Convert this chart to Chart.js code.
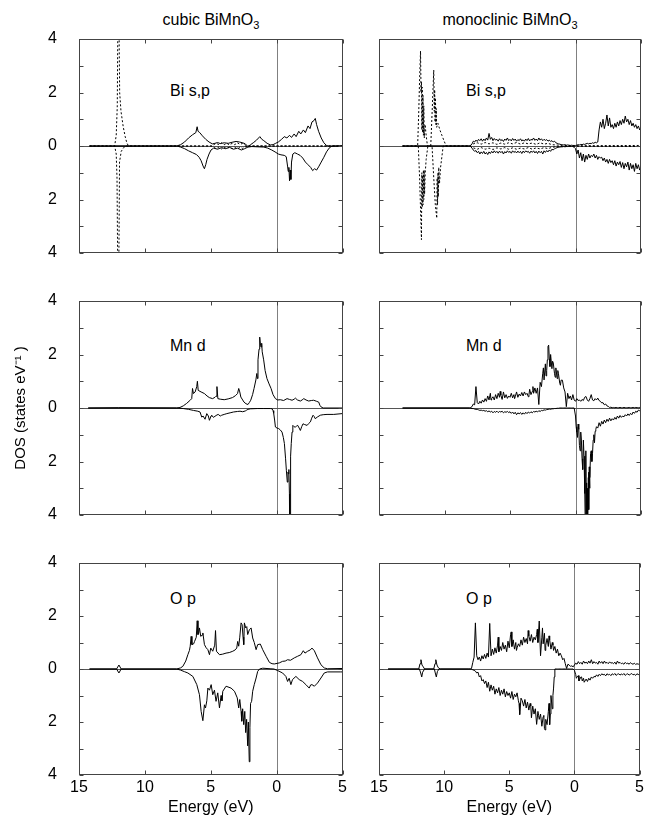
<!DOCTYPE html>
<html><head><meta charset="utf-8">
<script src="https://cdn.jsdelivr.net/npm/chart.js@4.4.1/dist/chart.umd.min.js"></script>
<style>
body{margin:0;background:#fff;width:647px;height:823px;position:relative;overflow:hidden;font-family:"Liberation Sans",Arial,Helvetica,sans-serif;}
canvas{position:absolute;}
.t{position:absolute;font-size:16px;line-height:16px;color:#000;white-space:nowrap;}
.ttl{text-align:center;width:200px;}
sub{font-size:11px;vertical-align:-4px;line-height:0;}
</style></head><body>
<div class="t ttl" style="left:111px;top:12px;">cubic BiMnO<sub>3</sub></div>
<div class="t ttl" style="left:410px;top:12px;">monoclinic BiMnO<sub>3</sub></div>
<div class="t" style="left:170px;top:83px;">Bi s,p</div>
<div class="t" style="left:466px;top:83px;">Bi s,p</div>
<div class="t" style="left:170px;top:338px;">Mn d</div>
<div class="t" style="left:466px;top:338px;">Mn d</div>
<div class="t" style="left:170px;top:591px;">O p</div>
<div class="t" style="left:466px;top:591px;">O p</div>
<canvas id="c1" width="350" height="234" style="left:0;top:29px"></canvas>
<canvas id="c2" width="297" height="234" style="left:350px;top:29px"></canvas>
<canvas id="c3" width="350" height="235" style="left:0;top:290px"></canvas>
<canvas id="c4" width="297" height="235" style="left:350px;top:290px"></canvas>
<canvas id="c5" width="350" height="270" style="left:0;top:553px"></canvas>
<canvas id="c6" width="297" height="270" style="left:350px;top:553px"></canvas>
<script>
// ---------- axis ticks ----------
const xTickMarks=[-15,-10,-5,0,5];
const yTickMarks=[-4,-3,-2,-1,0,1,2,3,4];
// monoclinic series are sampled on an energy grid starting at -8.0 eV, step 0.1 eV
const monoGridStart=-8.0, monoGridStep=0.1;

// ---------- cubic Bi s,p ----------
const cubicBiPUp=[[-14.2,0],[-7.6,0],[-7.3,0.05],[-7.0,0.15],[-6.7,0.3],[-6.4,0.42],[-6.15,0.5],[-6.05,0.72],[-5.98,0.55],[-5.85,0.5],[-5.65,0.38],[-5.4,0.25],[-5.15,0.15],[-4.9,0.08],[-4.7,0.1],[-4.5,0.13],[-4.3,0.09],[-4.0,0.12],[-3.7,0.1],[-3.4,0.14],[-3.1,0.17],[-2.85,0.15],[-2.6,0.12],[-2.4,0.08],[-2.2,-0.02],[-2.0,0.05],[-1.8,0.12],[-1.55,0.22],[-1.3,0.35],[-1.15,0.25],[-1.0,0.2],[-0.75,0.1],[-0.5,0.04],[-0.3,0.05],[-0.1,0.1],[0.1,0.15],[0.35,0.25],[0.55,0.35],[0.75,0.3],[0.95,0.4],[1.1,0.32],[1.3,0.45],[1.45,0.35],[1.65,0.55],[1.8,0.45],[2.0,0.6],[2.15,0.5],[2.35,0.75],[2.5,0.65],[2.65,0.9],[2.8,0.95],[2.9,1.03],[3.0,0.8],[3.15,0.55],[3.35,0.3],[3.55,0.12],[3.75,0.02],[3.9,0],[5,0]];
const cubicBiPDn=[[-14.2,0],[-7.6,0],[-7.3,-0.04],[-7.0,-0.1],[-6.7,-0.18],[-6.4,-0.25],[-6.1,-0.32],[-5.9,-0.42],[-5.75,-0.55],[-5.6,-0.75],[-5.5,-0.85],[-5.4,-0.7],[-5.3,-0.5],[-5.15,-0.3],[-5.0,-0.15],[-4.8,-0.08],[-4.5,-0.12],[-4.2,-0.06],[-3.9,-0.1],[-3.6,-0.05],[-3.3,-0.12],[-3.0,-0.08],[-2.7,-0.15],[-2.45,-0.1],[-2.2,-0.04],[-1.9,-0.02],[-1.5,-0.03],[-1.0,-0.04],[-0.7,-0.08],[-0.4,-0.15],[-0.15,-0.22],[0.1,-0.3],[0.3,-0.33],[0.55,-0.35],[0.7,-0.4],[0.8,-0.75],[0.85,-0.95],[0.9,-0.8],[0.95,-1.3],[1.0,-0.9],[1.05,-1.25],[1.1,-0.6],[1.2,-0.3],[1.35,-0.25],[1.55,-0.3],[1.75,-0.35],[1.95,-0.45],[2.15,-0.6],[2.35,-0.7],[2.55,-0.8],[2.7,-0.92],[2.85,-0.85],[3.0,-0.9],[3.15,-0.78],[3.35,-0.6],[3.55,-0.42],[3.75,-0.22],[3.95,-0.08],[4.1,-0.02],[4.3,0],[5,0]];
const cubicBiSUp=[[-14.2,0],[-12.3,0],[-12.18,0.4],[-12.1,1.5],[-12.05,5],[-11.98,5],[-11.92,2.0],[-11.82,1.3],[-11.65,0.72],[-11.5,0.35],[-11.38,0.12],[-11.25,0],[-5,0],[-4.8,0.05],[-4.6,0.1],[-4.4,0.05],[-4.2,0.12],[-4.0,0.05],[-3.8,0.1],[-3.6,0.04],[-3.4,0.1],[-3.2,0.05],[-3.0,0.12],[-2.8,0.06],[-2.6,0.1],[-2.4,0.03],[-2.2,0],[5,0]];
const cubicBiSDn=[[-14.2,0],[-12.3,0],[-12.18,-0.3],[-12.12,-1.2],[-12.06,-5],[-11.99,-5],[-11.93,-0.6],[-11.8,-0.2],[-11.6,-0.05],[-11.4,0],[-5,0],[-4.8,-0.05],[-4.6,-0.1],[-4.4,-0.04],[-4.2,-0.11],[-4.0,-0.05],[-3.8,-0.1],[-3.6,-0.04],[-3.4,-0.1],[-3.2,-0.05],[-3.0,-0.11],[-2.8,-0.05],[-2.6,-0.09],[-2.4,-0.03],[-2.2,0],[5,0]];

// ---------- monoclinic Bi s,p ----------
const monoBiPUp=[
0.02,0.08,0.18,0.15,0.22,0.17,0.25,0.2,0.27,0.18,
0.26,0.2,0.3,0.22,0.47,0.25,0.32,0.2,0.28,0.22,
0.25,0.18,0.27,0.2,0.24,0.17,0.26,0.21,0.3,0.2,
0.25,0.19,0.28,0.21,0.26,0.18,0.24,0.2,0.27,0.19,
0.23,0.18,0.26,0.2,0.28,0.19,0.25,0.22,0.3,0.21,
0.26,0.2,0.3,0.22,0.27,0.2,0.25,0.21,0.24,0.18,
0.22,0.17,0.2,0.15,0.18,0.12,0.1,0.08,0.07,0.05,
0.05,0.04,0.05,0.03,0.04,0.03,0.02,0.03,0.02,0.02,
0.02,0.03,0.05,0.04,0.06,0.05,0.07,0.06,0.08,0.1,
0.08,0.1,0.09,0.12,0.1,0.14,0.12,0.15,0.6,0.9,
0.7,1.0,0.65,0.85,1.16,0.75,1.05,0.7,0.8,0.65,
0.85,0.7,0.9,0.75,0.95,0.8,1.0,0.85,1.12,0.9,
1.0,0.8,0.95,0.75,0.85,0.7,0.8,0.65,0.75,0.6,
0.7];
const monoBiPDn=[
-0.02,-0.08,-0.15,-0.2,-0.17,-0.25,-0.2,-0.3,-0.22,-0.28,
-0.2,-0.3,-0.24,-0.32,-0.22,-0.28,-0.2,-0.26,-0.18,-0.25,
-0.2,-0.27,-0.19,-0.25,-0.2,-0.3,-0.21,-0.26,-0.18,-0.24,
-0.2,-0.27,-0.18,-0.24,-0.2,-0.26,-0.19,-0.25,-0.2,-0.28,
-0.19,-0.25,-0.18,-0.23,-0.2,-0.27,-0.19,-0.24,-0.18,-0.26,
-0.2,-0.28,-0.19,-0.25,-0.2,-0.3,-0.18,-0.24,-0.17,-0.22,
-0.15,-0.2,-0.12,-0.15,-0.1,-0.08,-0.06,-0.05,-0.04,-0.03,
-0.03,-0.02,-0.03,-0.02,-0.02,-0.01,-0.02,-0.01,-0.02,-0.05,
-0.1,-0.3,-0.15,-0.45,-0.25,-0.55,-0.3,-0.6,-0.35,-0.5,
-0.3,-0.45,-0.35,-0.4,-0.3,-0.45,-0.35,-0.5,-0.4,-0.45,
-0.42,-0.55,-0.45,-0.6,-0.5,-0.65,-0.5,-0.62,-0.55,-0.7,
-0.55,-0.75,-0.6,-0.7,-0.58,-0.8,-0.62,-0.85,-0.65,-0.78,
-0.6,-0.9,-0.65,-0.85,-0.7,-0.95,-0.65,-0.85,-0.7,-0.9,
-0.8];
const monoBiPLead=[[-13.2,0],[-8.1,0]];
const monoBiSUp=[[-13.2,0],[-12.05,0],[-11.97,1.2],[-11.9,2.5],[-11.83,3.55],[-11.79,2.0],[-11.76,2.4],[-11.73,0.6],[-11.7,2.2],[-11.67,0.5],[-11.64,1.9],[-11.61,0.4],[-11.58,1.5],[-11.54,0.3],[-11.48,0.8],[-11.4,0.4],[-11.3,0],[-11.05,0],[-10.95,1.2],[-10.87,2.2],[-10.82,2.84],[-10.78,1.3],[-10.75,2.1],[-10.72,0.9],[-10.69,1.8],[-10.66,0.8],[-10.63,1.4],[-10.6,0.7],[-10.5,0.85],[-10.35,0.6],[-10.2,0.4],[-10.0,0.15],[-9.87,0],[-8.1,0],[-7.8,0.08],[-7.5,0.12],[-7.2,0.07],[-6.9,0.13],[-6.6,0.08],[-6.3,0.12],[-6.0,0.06],[-5.7,0.11],[-5.4,0.07],[-5.1,0.12],[-4.8,0.08],[-4.5,0.13],[-4.2,0.07],[-3.9,0.12],[-3.6,0.08],[-3.3,0.11],[-3.0,0.06],[-2.7,0.12],[-2.4,0.07],[-2.1,0.1],[-1.8,0.05],[-1.5,0.04],[-1.0,0.02],[0,0.01],[5,0.02]];
const monoBiSDn=[[-13.2,0],[-12.0,0],[-11.9,-1.2],[-11.82,-2.5],[-11.76,-3.5],[-11.73,-1.0],[-11.7,-2.3],[-11.67,-1.1],[-11.64,-2.2],[-11.61,-0.9],[-11.58,-2.0],[-11.55,-0.9],[-11.52,-1.8],[-11.47,-1.0],[-11.4,-0.5],[-11.27,0],[-10.95,0],[-10.82,-1.2],[-10.7,-2.2],[-10.59,-2.7],[-10.56,-1.2],[-10.53,-2.2],[-10.5,-1.0],[-10.47,-1.9],[-10.44,-0.8],[-10.38,-1.4],[-10.3,-0.8],[-10.2,-0.4],[-10.1,0],[-8.1,0],[-7.8,-0.07],[-7.5,-0.12],[-7.2,-0.06],[-6.9,-0.12],[-6.6,-0.08],[-6.3,-0.13],[-6.0,-0.07],[-5.7,-0.11],[-5.4,-0.06],[-5.1,-0.12],[-4.8,-0.07],[-4.5,-0.12],[-4.2,-0.08],[-3.9,-0.11],[-3.6,-0.06],[-3.3,-0.12],[-3.0,-0.07],[-2.7,-0.11],[-2.4,-0.06],[-2.1,-0.1],[-1.8,-0.05],[-1.5,-0.03],[-1.0,-0.02],[0,-0.01],[5,-0.02]];

// ---------- cubic Mn d ----------
const cubicMnUp=[[-14.3,0],[-12,0.01],[-7.6,0],[-7.35,0.02],[-7.1,0.08],[-6.85,0.17],[-6.6,0.28],[-6.46,0.35],[-6.4,0.73],[-6.33,0.54],[-6.2,0.6],[-6.08,0.8],[-6.03,1.0],[-5.97,0.66],[-5.75,0.6],[-5.5,0.54],[-5.3,0.45],[-5.13,0.39],[-4.88,0.35],[-4.7,0.4],[-4.62,0.44],[-4.55,0.8],[-4.48,0.35],[-4.3,0.33],[-4.0,0.31],[-3.7,0.34],[-3.37,0.39],[-3.15,0.46],[-2.99,0.54],[-2.9,0.73],[-2.82,0.6],[-2.74,0.41],[-2.6,0.3],[-2.5,0.22],[-2.35,0.16],[-2.2,0.13],[-2.1,0.2],[-1.99,0.29],[-1.85,0.5],[-1.74,0.73],[-1.6,1.05],[-1.53,1.29],[-1.48,1.1],[-1.44,1.8],[-1.36,2.2],[-1.31,2.65],[-1.25,2.35],[-1.21,2.28],[-1.16,2.42],[-1.12,2.1],[-1.01,1.8],[-0.9,1.4],[-0.76,1.1],[-0.6,0.9],[-0.45,0.73],[-0.3,0.5],[-0.12,0.35],[0.05,0.3],[0.25,0.31],[0.5,0.28],[0.76,0.35],[0.95,0.32],[1.14,0.29],[1.3,0.33],[1.39,0.37],[1.55,0.3],[1.77,0.26],[1.9,0.3],[2.03,0.35],[2.2,0.3],[2.4,0.26],[2.6,0.28],[2.78,0.29],[3.0,0.25],[3.16,0.22],[3.25,0.1],[3.34,0.04],[3.5,0],[5,0]];
const cubicMnDn=[[-14.3,0],[-7.6,0],[-7.1,-0.02],[-6.7,-0.05],[-6.33,-0.09],[-6.0,-0.12],[-5.83,-0.15],[-5.7,-0.34],[-5.6,-0.3],[-5.45,-0.42],[-5.32,-0.21],[-5.2,-0.3],[-5.12,-0.46],[-5.0,-0.3],[-4.95,-0.27],[-4.82,-0.35],[-4.7,-0.31],[-4.55,-0.26],[-4.45,-0.24],[-4.3,-0.3],[-4.19,-0.27],[-4.0,-0.24],[-3.8,-0.21],[-3.55,-0.18],[-3.3,-0.15],[-3.0,-0.13],[-2.8,-0.12],[-2.6,-0.14],[-2.4,-0.11],[-2.3,-0.08],[-2.2,-0.05],[-2.0,-0.03],[-1.5,-0.02],[-1.0,-0.02],[-0.5,-0.02],[-0.37,-0.03],[-0.3,-0.1],[-0.25,-0.2],[-0.18,-0.45],[-0.12,-0.71],[0.0,-0.75],[0.13,-0.77],[0.25,-0.82],[0.38,-0.9],[0.48,-1.1],[0.56,-1.33],[0.65,-1.9],[0.71,-2.33],[0.78,-2.77],[0.83,-2.4],[0.87,-2.46],[0.9,-2.3],[0.94,-3.2],[0.96,-4.5],[0.99,-4.5],[1.01,-2.6],[1.05,-1.8],[1.08,-1.33],[1.14,-0.9],[1.2,-0.65],[1.3,-0.7],[1.39,-0.72],[1.5,-0.66],[1.57,-0.65],[1.68,-0.75],[1.77,-0.84],[1.87,-0.7],[1.97,-0.59],[2.1,-0.62],[2.28,-0.65],[2.4,-0.58],[2.53,-0.52],[2.63,-0.38],[2.73,-0.27],[2.82,-0.32],[2.9,-0.4],[3.05,-0.34],[3.28,-0.27],[3.5,-0.25],[3.79,-0.24],[4.3,-0.24],[4.93,-0.21],[5,-0.21]];

// ---------- monoclinic Mn d ----------
const monoMnUp=[
0.02,0.05,0.15,0.12,0.8,0.2,0.15,0.25,0.18,0.3,
0.22,0.35,0.25,0.45,0.3,0.55,0.35,0.42,0.3,0.5,
0.35,0.55,0.4,0.48,0.32,0.6,0.38,0.5,0.36,0.45,
0.4,0.55,0.38,0.5,0.42,0.6,0.4,0.52,0.45,0.58,
0.45,0.6,0.5,0.55,0.42,0.7,0.5,0.62,0.55,0.75,
0.55,0.75,0.13,0.96,0.8,1.3,1.05,1.65,1.4,2.3,
1.85,2.0,1.47,1.7,1.28,1.5,1.1,1.28,0.92,1.04,
1.04,0.75,0.6,0.05,0.55,0.35,0.45,0.3,0.5,0.3,
0.25,0.35,0.28,0.3,0.25,0.32,0.28,0.4,0.43,0.3,
0.25,0.35,0.5,0.3,0.27,0.35,0.3,0.37,0.28,0.25,
0.19,0.2,0.12,0.15,0.08,0.06,0.02,0.03,0.01,0.02,
0.01,0.02,0.01,0.01,0.02,0.01,0.01,0.02,0.01,0.01,
0.01,0.02,0.01,0.01,0.02,0.01,0.02,0.01,0.01,0.02,
0.01];
const monoMnUpExtra=[[-13.2,0],[-8.1,0],[-6.45,0.3],[-5.75,0.62],[-4.65,0.35],[-3.55,0.5],[-3.25,0.8],[-2.45,1.5],[-2.25,1.2],[-2.15,1.8],[-2.05,2.35],[-1.95,1.55],[-1.75,1.75],[-1.55,1.15],[-1.35,1.4],[-1.15,0.85]];
const monoMnDn=[
-0.01,-0.02,-0.02,-0.04,-0.05,-0.05,-0.07,-0.09,-0.08,-0.1,
-0.09,-0.12,-0.1,-0.14,-0.11,-0.15,-0.12,-0.18,-0.13,-0.16,
-0.12,-0.17,-0.13,-0.15,-0.12,-0.18,-0.14,-0.16,-0.13,-0.17,
-0.14,-0.2,-0.15,-0.22,-0.16,-0.25,-0.18,-0.22,-0.17,-0.24,
-0.18,-0.23,-0.16,-0.21,-0.15,-0.19,-0.14,-0.18,-0.13,-0.15,
-0.12,-0.15,-0.1,-0.13,-0.09,-0.1,-0.07,-0.08,-0.06,-0.05,
-0.04,-0.05,-0.03,-0.03,-0.02,-0.02,-0.01,-0.01,0,0,
0,0,0,0,0,0,0,0,0,0,
-0.3,-0.9,-0.6,-1.4,-0.9,-1.9,-1.2,-2.6,-1.6,-4.5,
-2.4,-2.6,-1.6,-1.7,-1.0,-0.87,-0.7,-0.75,-0.55,-0.68,
-0.5,-0.6,-0.45,-0.55,-0.42,-0.5,-0.38,-0.48,-0.4,-0.45,
-0.35,-0.42,-0.3,-0.38,-0.28,-0.35,-0.3,-0.33,-0.25,-0.3,
-0.22,-0.28,-0.2,-0.25,-0.15,-0.2,-0.12,-0.16,-0.08,-0.1,
-0.06];
const monoMnDnExtra=[[-13.2,0],[-8.1,0],[0.05,-0.7],[0.15,-1.1],[0.25,-0.8],[0.35,-1.6],[0.45,-1.2],[0.55,-2.3],[0.65,-1.8],[0.72,-3.2],[0.75,-4.5],[0.78,-2.4],[0.82,-4.5],[0.85,-2.8],[0.88,-4.5],[0.92,-3.0],[0.95,-4.5],[0.98,-2.6],[1.02,-3.8],[1.05,-2.2],[1.08,-3.0],[1.15,-1.7],[1.25,-2.0],[1.35,-1.2],[1.45,-1.3],[1.55,-0.8]];

// ---------- cubic O p ----------
const cubicOUp=[[-14.2,0],[-12.15,0],[-11.97,0.15],[-11.8,0],[-7.6,0],[-7.3,0.04],[-7.12,0.1],[-6.9,0.3],[-6.74,0.54],[-6.62,0.7],[-6.56,0.86],[-6.49,1.23],[-6.43,0.92],[-6.3,0.95],[-6.23,1.04],[-6.1,1.2],[-6.03,1.82],[-5.97,1.3],[-5.92,1.35],[-5.86,1.55],[-5.76,1.23],[-5.66,1.28],[-5.6,1.36],[-5.48,0.92],[-5.35,0.8],[-5.22,0.73],[-5.1,0.54],[-5.0,0.79],[-4.85,0.67],[-4.7,0.9],[-4.64,1.45],[-4.57,0.67],[-4.34,0.54],[-4.1,0.56],[-3.84,0.6],[-3.6,0.62],[-3.33,0.67],[-3.15,0.72],[-3.03,0.79],[-2.96,1.04],[-2.88,0.86],[-2.8,1.2],[-2.7,1.74],[-2.62,1.67],[-2.55,1.2],[-2.5,0.92],[-2.45,1.74],[-2.35,1.55],[-2.27,1.6],[-2.2,1.3],[-2.07,1.48],[-1.94,1.55],[-1.82,1.17],[-1.7,1.0],[-1.56,0.73],[-1.44,0.92],[-1.24,0.94],[-1.06,0.73],[-0.8,0.48],[-0.55,0.25],[-0.35,0.2],[-0.18,0.19],[0.2,0.23],[0.45,0.29],[0.65,0.3],[0.83,0.35],[1.05,0.33],[1.34,0.42],[1.59,0.48],[1.84,0.54],[2.02,0.69],[2.15,0.6],[2.35,0.67],[2.55,0.72],[2.68,0.79],[2.86,0.69],[3.1,0.42],[3.36,0.16],[3.61,0.04],[3.86,0.01],[5,0.02]];
const cubicODn=[[-14.2,0],[-12.15,0],[-11.97,-0.15],[-11.8,0],[-7.6,0],[-7.3,-0.04],[-7.0,-0.1],[-6.74,-0.15],[-6.36,-0.28],[-6.06,-0.59],[-5.86,-0.97],[-5.73,-1.6],[-5.6,-1.95],[-5.48,-1.35],[-5.4,-1.47],[-5.3,-1.2],[-5.22,-0.72],[-5.1,-0.8],[-4.97,-0.59],[-4.85,-0.97],[-4.72,-0.8],[-4.6,-1.22],[-4.47,-0.9],[-4.34,-1.47],[-4.22,-1.0],[-4.15,-1.2],[-4.09,-0.84],[-3.84,-0.65],[-3.46,-0.72],[-3.2,-0.84],[-2.99,-1.09],[-2.88,-1.47],[-2.8,-1.15],[-2.7,-1.6],[-2.65,-1.97],[-2.58,-1.5],[-2.5,-2.1],[-2.42,-1.6],[-2.35,-2.4],[-2.28,-1.9],[-2.2,-2.9],[-2.15,-2.0],[-2.08,-3.5],[-2.03,-2.2],[-1.98,-1.3],[-1.9,-1.22],[-1.82,-0.84],[-1.7,-0.59],[-1.56,-0.34],[-1.44,-0.09],[-1.3,0],[-1.06,0.03],[-0.5,0.01],[-0.2,0],[0.08,-0.06],[0.45,-0.15],[0.7,-0.28],[0.83,-0.47],[0.95,-0.35],[1.08,-0.59],[1.2,-0.4],[1.46,-0.28],[1.71,-0.4],[1.97,-0.47],[2.22,-0.59],[2.47,-0.72],[2.58,-0.6],[2.68,-0.59],[2.86,-0.65],[3.1,-0.53],[3.36,-0.34],[3.61,-0.15],[3.86,-0.11],[4.87,-0.11],[5,-0.11]];

// ---------- monoclinic O p ----------
const monoOUp=[
0,0.02,0.25,0.45,1.74,0.5,0.35,0.45,0.3,0.5,
0.38,0.55,0.4,0.6,0.45,1.72,0.5,0.75,0.55,0.8,
0.6,0.9,0.65,0.85,0.7,1.0,0.75,0.9,0.65,1.05,
0.8,1.3,0.85,1.1,0.75,1.0,0.8,0.95,0.85,1.1,
0.9,1.2,1.0,1.15,0.95,1.25,1.05,1.3,1.0,1.2,
1.1,1.3,1.0,1.81,0.5,1.2,0.95,1.35,0.9,1.15,
0.85,1.1,0.75,1.0,0.7,0.85,0.6,0.75,0.5,0.6,
0.5,0.35,0.4,0.2,0.02,0.18,0.15,0.1,0.12,0.08,
0.15,0.22,0.18,0.28,0.2,0.25,0.18,0.3,0.22,0.26,
0.2,0.3,0.22,0.35,0.2,0.28,0.22,0.25,0.18,0.3,
0.22,0.28,0.2,0.3,0.22,0.25,0.2,0.27,0.22,0.24,
0.2,0.26,0.18,0.3,0.22,0.25,0.2,0.22,0.18,0.25,
0.2,0.22,0.18,0.24,0.2,0.18,0.22,0.17,0.2,0.18,
0.2];
const monoOUpExtra=[[-14.3,0],[-11.95,0],[-11.85,0.2],[-11.78,0.35],[-11.7,0.15],[-11.6,0.08],[-11.5,0],[-10.8,0],[-10.7,0.2],[-10.64,0.35],[-10.55,0.15],[-10.45,0.05],[-10.3,0],[-8.1,0],[-5.85,1.2],[-4.85,1.4],[-4.45,0.7],[-3.55,1.45],[-2.85,1.5],[-2.45,1.55],[-2.25,0.7],[-1.95,1.25],[-1.65,0.9]];
const monoODn=[
0,-0.01,-0.03,-0.05,-0.08,-0.15,-0.12,-0.3,-0.25,-0.45,
-0.4,-0.55,-0.45,-0.7,-0.5,-0.84,-0.6,-0.8,-0.65,-0.95,
-0.75,-0.9,-0.7,-1.0,-0.8,-0.95,-0.75,-1.05,-0.85,-1.0,
-0.9,-1.1,-0.85,-1.15,-0.95,-1.05,-0.9,-1.2,-1.72,-1.1,
-1.2,-1.4,-1.15,-1.47,-1.25,-1.55,-1.3,-1.84,-1.4,-1.7,
-1.5,-2.09,-1.6,-1.9,-1.7,-2.16,-1.8,-2.25,-1.9,-2.1,
-1.6,-2.1,-1.0,-1.5,-0.72,0,0,0,0,0,
0,0,0,0,0,0,0,0,0,0,
-0.05,-0.21,-0.3,-0.25,-0.4,-0.3,-0.45,-0.35,-0.5,-0.38,
-0.47,-0.35,-0.42,-0.3,-0.35,-0.28,-0.3,-0.22,-0.28,-0.2,
-0.25,-0.18,-0.22,-0.2,-0.26,-0.18,-0.22,-0.2,-0.25,-0.18,
-0.22,-0.17,-0.24,-0.2,-0.18,-0.23,-0.19,-0.22,-0.17,-0.24,
-0.2,-0.18,-0.23,-0.2,-0.17,-0.22,-0.2,-0.24,-0.18,-0.21,
-0.2];
const monoODnExtra=[[-14.3,0],[-11.9,0],[-11.8,-0.15],[-11.72,-0.3],[-11.65,-0.12],[-11.5,0],[-10.75,0],[-10.68,-0.15],[-10.6,-0.3],[-10.52,-0.1],[-10.4,0],[-8.1,0],[-4.25,-1.3],[-3.35,-1.4],[-2.75,-1.75],[-2.35,-1.75],[-2.25,-2.3],[-1.95,-1.3],[-1.85,-1.7],[-1.65,-1.0],[-1.55,-0.3],[0.15,-0.35],[0.35,-0.45],[0.55,-0.3],[0.75,-0.5]];

// ---------- helpers ----------
const FONT='"Liberation Sans", Arial, Helvetica, sans-serif';
function pts(pairs){return pairs.map(p=>({x:p[0],y:p[1]}));}
function gridPts(vals){return vals.map((v,i)=>({x:Math.round((monoGridStart+i*monoGridStep)*100)/100,y:v}));}
function merge(){const all=[];for(const l of arguments)all.push(...l);return all.sort((a,b)=>a.x-b.x);}
function ds(data,dotted){return {data:data,borderColor:'#000',borderWidth:1,borderDash:dotted?[2,2]:[],pointRadius:0,fill:false,tension:0};}

const framePlugin={
  id:'frame',
  beforeDatasetsDraw(chart){
    const {ctx,chartArea:a,scales:{x,y}}=chart;
    ctx.save();ctx.lineWidth=1;
    const px=Math.round(x.getPixelForValue(0))+0.5;
    ctx.strokeStyle='#808080';
    ctx.beginPath();ctx.moveTo(px,a.top);ctx.lineTo(px,a.bottom);ctx.stroke();
    const py=Math.round(y.getPixelForValue(0))+0.5;
    ctx.strokeStyle='#555';
    ctx.beginPath();ctx.moveTo(a.left,py);ctx.lineTo(a.right,py);ctx.stroke();
    ctx.restore();
  },
  afterDatasetsDraw(chart){
    const {ctx,chartArea:a,scales:{x,y}}=chart;
    ctx.save();ctx.strokeStyle='#444';ctx.lineWidth=1;
    const L=Math.round(a.left)+0.5,R=Math.round(a.right)-0.5,T=Math.round(a.top)+0.5,B=Math.round(a.bottom)-0.5;
    ctx.strokeRect(L,T,R-L,B-T);
    ctx.beginPath();
    yTickMarks.forEach(v=>{const p=Math.round(y.getPixelForValue(v))+0.5;ctx.moveTo(L,p);ctx.lineTo(L+4,p);ctx.moveTo(R,p);ctx.lineTo(R-4,p);});
    xTickMarks.forEach(v=>{const p=Math.round(x.getPixelForValue(v))+0.5;ctx.moveTo(p,T);ctx.lineTo(p,T+4);ctx.moveTo(p,B);ctx.lineTo(p,B-4);});
    ctx.stroke();ctx.restore();
  }
};

function makeChart(id,datasets,o){
  return new Chart(document.getElementById(id),{
    type:'line',
    data:{datasets:datasets},
    options:{
      responsive:false,animation:false,events:[],
      layout:{padding:o.pad},
      plugins:{legend:{display:false},tooltip:{enabled:false}},
      scales:{
        x:{type:'linear',min:xTickMarks[0],max:xTickMarks[xTickMarks.length-1],display:o.showX,
          grid:{display:false,drawTicks:false},border:{display:false},
          ticks:{stepSize:5,padding:3,color:'#000',font:{size:16,family:FONT},maxRotation:0,autoSkip:false,callback:v=>String(Math.abs(v))},
          title:{display:o.showX,text:'Energy (eV)',color:'#000',font:{size:16,family:FONT},padding:{top:0,bottom:6}},
          afterFit:s=>{if(o.showX)s.height=48;}},
        y:{type:'linear',min:yTickMarks[0],max:yTickMarks[yTickMarks.length-1],display:o.showY,
          grid:{display:false,drawTicks:false},border:{display:false},
          ticks:{stepSize:2,padding:22,color:'#000',font:{size:16,family:FONT},callback:v=>String(Math.abs(v))},
          title:{display:!!o.yTitle,text:o.yTitle||'',color:'#000',font:{size:15,family:FONT},padding:{top:12,bottom:0}},
          afterFit:s=>{if(o.showY){s.width=79;}s.paddingTop=0;s.paddingBottom=0;}}
      }
    },
    plugins:[framePlugin]
  });
}

makeChart('c1',[ds(pts(cubicBiSUp),true),ds(pts(cubicBiSDn),true),ds(pts(cubicBiPUp)),ds(pts(cubicBiPDn))],
  {pad:{left:0,right:7,top:10,bottom:10},showX:false,showY:true});
makeChart('c2',[ds(pts(monoBiSUp),true),ds(pts(monoBiSDn),true),ds(merge(pts(monoBiPLead),gridPts(monoBiPUp))),ds(merge(pts(monoBiPLead),gridPts(monoBiPDn)))],
  {pad:{left:29,right:6,top:10,bottom:10},showX:false,showY:false});
makeChart('c3',[ds(pts(cubicMnUp)),ds(pts(cubicMnDn))],
  {pad:{left:0,right:7,top:11,bottom:10},showX:false,showY:true,yTitle:'DOS (states eV\u207B\u00B9 )'});
makeChart('c4',[ds(merge(gridPts(monoMnUp),pts(monoMnUpExtra))),ds(merge(gridPts(monoMnDn),pts(monoMnDnExtra)))],
  {pad:{left:29,right:6,top:11,bottom:10},showX:false,showY:false});
makeChart('c5',[ds(pts(cubicOUp)),ds(pts(cubicODn))],
  {pad:{left:0,right:7,top:10,bottom:0},showX:true,showY:true});
makeChart('c6',[ds(merge(gridPts(monoOUp),pts(monoOUpExtra))),ds(merge(gridPts(monoODn),pts(monoODnExtra)))],
  {pad:{left:29,right:6,top:10,bottom:0},showX:true,showY:false});
</script>
</body></html>
